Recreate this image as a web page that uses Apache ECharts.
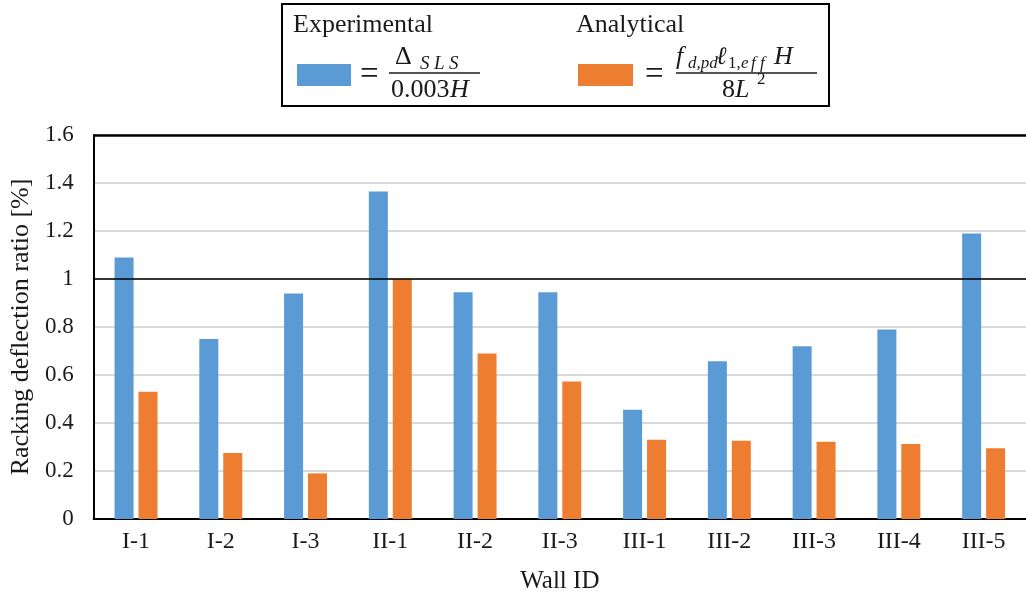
<!DOCTYPE html>
<html>
<head>
<meta charset="utf-8">
<script src="https://cdn.jsdelivr.net/npm/echarts@6/dist/echarts.min.js"></script>
<style>html,body{margin:0;padding:0;background:#fff;}#c{width:1026px;height:599px;}</style>
</head>
<body>
<div id="c"></div>
<script>
const categories = ['I-1','I-2','I-3','II-1','II-2','II-3','III-1','III-2','III-3','III-4','III-5'];
const experimental = [1.09, 0.75, 0.94, 1.365, 0.945, 0.945, 0.455, 0.657, 0.72, 0.79, 1.19];
const analytical = [0.53, 0.275, 0.19, 1.0, 0.69, 0.573, 0.33, 0.326, 0.322, 0.313, 0.295];
const yTicks = {min: 0, max: 1.6, interval: 0.2};
const referenceLines = [1.0, 1.6];

const SERIF = '"Liberation Serif", "DejaVu Serif", serif';
const TXT = '#1a1a1a';
const BLUE = '#5b9bd5';
const ORANGE = '#ed7d31';

const chart = echarts.init(document.getElementById('c'), null, {renderer: 'canvas'});

function t(x, y, text, size, opts) {
  return {
    type: 'text', x: x, y: y, z: 10,
    style: Object.assign({text: text, fontFamily: SERIF, fontSize: size, fill: TXT, verticalAlign: 'middle', align: 'left'}, (opts || {}))
  };
}
const IT = {fontStyle: 'italic'};

const graphics = [
  {type: 'rect', shape: {x: 282, y: 4, width: 547, height: 102}, style: {fill: '#fff', stroke: '#000', lineWidth: 2}, z: 5},
  t(293, 25, 'Experimental', 26),
  t(576, 25, 'Analytical', 26),
  {type: 'rect', shape: {x: 297, y: 64, width: 54, height: 22}, style: {fill: BLUE}, z: 10},
  {type: 'rect', shape: {x: 578, y: 64, width: 55, height: 22}, style: {fill: ORANGE}, z: 10},
  t(360, 75, '=', 33),
  t(645, 75, '=', 33),
  // fraction 1
  t(395, 57, '\u0394', 26),
  t(420, 64, 'S', 19, IT),
  t(434, 64, 'L', 19, IT),
  t(449, 64, 'S', 19, IT),
  {type: 'line', shape: {x1: 389, y1: 73, x2: 480, y2: 73}, style: {stroke: TXT, lineWidth: 1.5}, z: 10},
  t(391, 90, '0.003', 26),
  t(450, 90, 'H', 26, IT),
  // fraction 2
  t(676, 57, 'f', 26, IT),
  t(688, 64, 'd,pd', 17, IT),
  t(716, 57, '\u2113', 25, IT),
  t(728, 64, '1,', 17),
  t(741, 64, 'e', 17, IT),
  t(751, 64, 'f', 17, IT),
  t(760, 64, 'f', 17, IT),
  t(774, 57, 'H', 26, IT),
  {type: 'line', shape: {x1: 676, y1: 73, x2: 817, y2: 73}, style: {stroke: TXT, lineWidth: 1.5}, z: 10},
  t(722, 90, '8', 26),
  t(735, 90, 'L', 26, IT),
  t(757, 80, '2', 17)
];

const option = {
  animation: false,
  backgroundColor: '#fff',
  grid: {left: 93, top: 135, width: 935, height: 384, containLabel: false},
  xAxis: {
    type: 'category',
    data: categories,
    axisLine: {show: true, lineStyle: {color: '#000', width: 2}},
    axisTick: {show: false},
    axisLabel: {fontFamily: SERIF, fontSize: 24, color: TXT, margin: 11},
    name: 'Wall ID',
    nameLocation: 'middle',
    nameGap: 50,
    nameTextStyle: {fontFamily: SERIF, fontSize: 25, color: TXT}
  },
  yAxis: {
    type: 'value',
    min: yTicks.min, max: yTicks.max, interval: yTicks.interval,
    axisLine: {show: true, lineStyle: {color: '#000', width: 2}},
    axisTick: {show: false},
    axisLabel: {fontFamily: SERIF, fontSize: 23, color: TXT, margin: 20},
    splitLine: {show: true, lineStyle: {color: '#d9d9d9', width: 2}},
    name: 'Racking deflection ratio [%]',
    nameLocation: 'middle',
    nameGap: 57,
    nameTextStyle: {fontFamily: SERIF, fontSize: 26, color: TXT}
  },
  series: [
    {
      name: 'Experimental', type: 'bar', data: experimental,
      barWidth: 19, barGap: '26%',
      itemStyle: {color: BLUE},
      markLine: {
        silent: true, symbol: 'none', label: {show: false},
        data: [
          {yAxis: referenceLines[0], lineStyle: {color: '#000', width: 1.5, type: 'solid'}},
          {yAxis: referenceLines[1], lineStyle: {color: '#000', width: 2.5, type: 'solid'}}
        ]
      }
    },
    {
      name: 'Analytical', type: 'bar', data: analytical,
      barWidth: 19, barGap: '26%',
      itemStyle: {color: ORANGE}
    }
  ],
  graphic: graphics
};
chart.setOption(option);
</script>
</body>
</html>
